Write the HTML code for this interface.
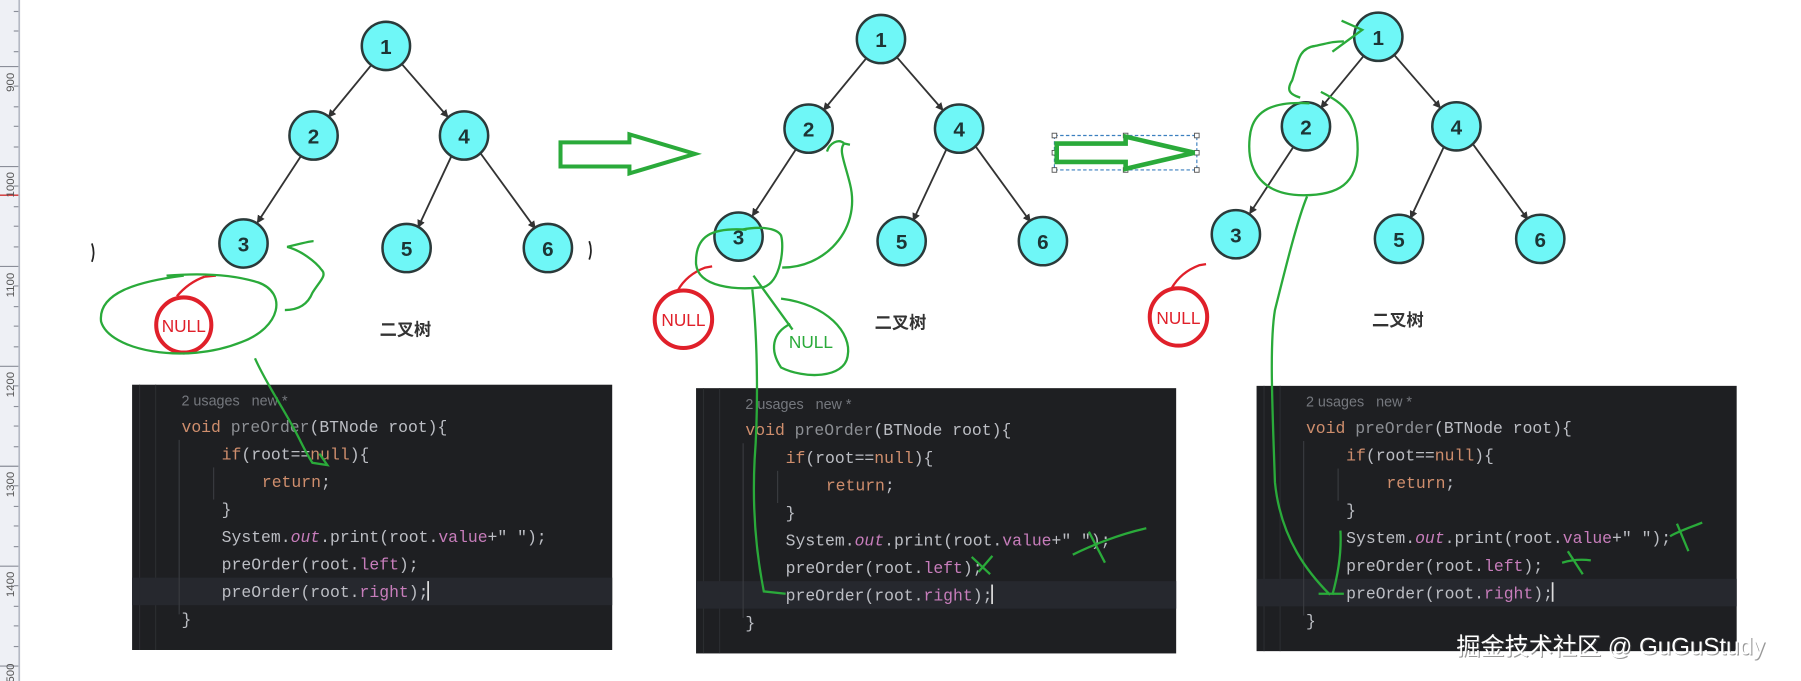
<!DOCTYPE html>
<html><head><meta charset="utf-8"><style>
html,body{margin:0;padding:0;background:#fff;}
svg{display:block;}
.code{font-family:"Liberation Mono",monospace;font-size:14.3px;fill:#bcbec4;}
.cn{font-family:"Liberation Sans","Noto Sans CJK SC",sans-serif;}
</style></head><body>
<svg width="1801" height="681" viewBox="0 0 1568 593" preserveAspectRatio="none" xmlns="http://www.w3.org/2000/svg">
<defs>
<marker id="ah" viewBox="0 0 10 10" refX="9" refY="5" markerWidth="7" markerHeight="7" orient="auto" markerUnits="userSpaceOnUse"><path d="M0,0 L10,5 L0,10 z" fill="#333"/></marker>
<g id="tree">
  <g stroke="#333" stroke-width="1.6" marker-end="url(#ah)">
    <line x1="323" y1="57" x2="286" y2="102"/>
    <line x1="350" y1="56" x2="390" y2="102"/>
    <line x1="262" y1="136" x2="224" y2="194"/>
    <line x1="393" y1="136" x2="364" y2="198"/>
    <line x1="418" y1="133" x2="466" y2="199"/>
  </g>
  <g fill="#6ff7f7" stroke="#2b3a3a" stroke-width="2.2">
    <circle cx="336" cy="40" r="21"/><circle cx="273" cy="118" r="21"/><circle cx="404" cy="118" r="21"/>
    <circle cx="212" cy="212" r="21"/><circle cx="354" cy="216" r="21"/><circle cx="477" cy="216" r="21"/>
  </g>
  <g font-family="Liberation Sans,sans-serif" font-weight="bold" font-size="18" fill="#1d3535" text-anchor="middle">
    <text x="336" y="47">1</text><text x="273" y="125">2</text><text x="404" y="125">4</text>
    <text x="212" y="219">3</text><text x="354" y="223">5</text><text x="477" y="223">6</text>
  </g>
  <text x="353" y="292" class="cn" font-size="15" font-weight="bold" fill="#333" text-anchor="middle">二叉树</text>
</g>
<g id="codebox">
  <rect x="0" y="0" width="418" height="231" fill="#1e1f22"/>
  <rect x="6" y="0" width="1" height="231" fill="#2b2d30"/>
  <rect x="20" y="0" width="1" height="231" fill="#2b2d30"/>
  <rect x="0" y="168" width="418" height="24" fill="#26282e"/>
  <line x1="41" y1="48" x2="41" y2="200" stroke="#393b40"/>
  <line x1="71" y1="72" x2="71" y2="100" stroke="#393b40"/>
  <text x="43" y="18" font-family="Liberation Sans,sans-serif" font-size="12.5" fill="#75787e">2 usages &#160; new *</text>
  <text class="code" x="43" y="41"><tspan style="fill:#cf8e6d">void</tspan> <tspan style="fill:#8c8f94">preOrder</tspan>(BTNode root){</text>
  <text class="code" x="78" y="65"><tspan style="fill:#cf8e6d">if</tspan>(root==<tspan style="fill:#cf8e6d">null</tspan>){</text>
  <text class="code" x="113" y="89"><tspan style="fill:#cf8e6d">return</tspan>;</text>
  <text class="code" x="78" y="113">}</text>
  <text class="code" x="78" y="137">System.<tspan style="fill:#c77dbb;font-style:italic">out</tspan>.print(root.<tspan style="fill:#c77dbb">value</tspan>+" ");</text>
  <text class="code" x="78" y="161">preOrder(root.<tspan style="fill:#c77dbb">left</tspan>);</text>
  <text class="code" x="78" y="185">preOrder(root.<tspan style="fill:#c77dbb">right</tspan>);</text>
  <rect x="257" y="171" width="1.5" height="17" fill="#ddd"/>
  <text class="code" x="43" y="209">}</text>
</g>
</defs>

<!-- ruler -->
<rect x="0" y="0" width="17" height="593" fill="#eef0f5"/>
<rect x="16" y="0" width="1.5" height="593" fill="#b5b9c4"/>
<g stroke="#8a8e99" stroke-width="1">
  <line x1="12" y1="10" x2="16" y2="10"/><line x1="12" y1="27" x2="16" y2="27"/><line x1="12" y1="45" x2="16" y2="45"/>
  <line x1="0" y1="58" x2="16" y2="58"/><line x1="12" y1="75" x2="16" y2="75"/><line x1="12" y1="93" x2="16" y2="93"/><line x1="12" y1="110" x2="16" y2="110"/><line x1="12" y1="128" x2="16" y2="128"/>
  <line x1="0" y1="145" x2="16" y2="145"/><line x1="12" y1="162" x2="16" y2="162"/><line x1="12" y1="180" x2="16" y2="180"/><line x1="12" y1="197" x2="16" y2="197"/><line x1="12" y1="215" x2="16" y2="215"/>
  <line x1="0" y1="232" x2="16" y2="232"/><line x1="12" y1="249" x2="16" y2="249"/><line x1="12" y1="267" x2="16" y2="267"/><line x1="12" y1="284" x2="16" y2="284"/><line x1="12" y1="302" x2="16" y2="302"/>
  <line x1="0" y1="319" x2="16" y2="319"/><line x1="12" y1="336" x2="16" y2="336"/><line x1="12" y1="354" x2="16" y2="354"/><line x1="12" y1="371" x2="16" y2="371"/><line x1="12" y1="389" x2="16" y2="389"/>
  <line x1="0" y1="406" x2="16" y2="406"/><line x1="12" y1="423" x2="16" y2="423"/><line x1="12" y1="441" x2="16" y2="441"/><line x1="12" y1="458" x2="16" y2="458"/><line x1="12" y1="476" x2="16" y2="476"/>
  <line x1="0" y1="493" x2="16" y2="493"/><line x1="12" y1="510" x2="16" y2="510"/><line x1="12" y1="528" x2="16" y2="528"/><line x1="12" y1="545" x2="16" y2="545"/><line x1="12" y1="563" x2="16" y2="563"/>
  <line x1="0" y1="580" x2="16" y2="580"/>
</g>
<line x1="0" y1="170" x2="16" y2="170" stroke="#d03030" stroke-width="1.2"/>
<g font-family="Liberation Sans,sans-serif" font-size="10" fill="#555">
  <text transform="translate(12,80) rotate(-90)">900</text>
  <text transform="translate(12,172) rotate(-90)">1000</text>
  <text transform="translate(12,259) rotate(-90)">1100</text>
  <text transform="translate(12,346) rotate(-90)">1200</text>
  <text transform="translate(12,433) rotate(-90)">1300</text>
  <text transform="translate(12,520) rotate(-90)">1400</text>
  <text transform="translate(12,600) rotate(-90)">1500</text>
</g>

<!-- panel 1 -->
<use href="#tree"/>
<use href="#codebox" x="115" y="335"/>
<path d="M80,212 q3,8 0,16" stroke="#222" fill="none" stroke-width="1.5"/>
<path d="M513,210 q3,8 0,16" stroke="#222" fill="none" stroke-width="1.5"/>
<circle cx="160" cy="283" r="24" fill="none" stroke="#e0202a" stroke-width="3.5"/>
<text x="160" y="289" font-family="Liberation Sans,sans-serif" font-size="15" fill="#e0202a" text-anchor="middle">NULL</text>
<path d="M154,258 q10,-12 24,-17 M178,241 l10,-1" stroke="#e0202a" fill="none" stroke-width="2"/>
<g stroke="#2aaa3a" stroke-width="2" fill="none">
  <path d="M160,240 C120,245 85,255 88,280 C95,305 160,318 210,298 C245,285 250,255 225,246 C200,238 170,238 145,240"/>
  <path d="M248,270 C260,270 268,265 272,255 C278,245 285,240 280,235 C275,228 262,218 250,215 C262,212 270,210 273,210"/>
  <path d="M222,312 C232,335 250,360 262,385 C266,393 270,400 272,403 L285,405 L278,395"/>
</g>
<!-- big arrow 1 -->
<path d="M488,124 L548,124 L548,117 L605,134 L548,151 L548,145 L488,145 Z" fill="none" stroke="#2aaa3a" stroke-width="3.5"/>

<!-- panel 2 -->
<use href="#tree" x="431" y="-6"/>
<use href="#codebox" x="606" y="338"/>
<circle cx="595" cy="278" r="25" fill="none" stroke="#e0202a" stroke-width="3.5"/>
<text x="595" y="284" font-family="Liberation Sans,sans-serif" font-size="15" fill="#e0202a" text-anchor="middle">NULL</text>
<path d="M590,253 q8,-14 24,-20 L620,232" stroke="#e0202a" fill="none" stroke-width="2"/>
<text x="706" y="303" font-family="Liberation Sans,sans-serif" font-size="15" fill="#2aaa3a" text-anchor="middle">NULL</text>
<g stroke="#2aaa3a" stroke-width="2" fill="none">
  <path d="M650,200 C620,198 605,205 606,230 C608,250 640,253 665,250 C680,245 683,215 680,205 C676,198 660,197 646,200"/>
  <path d="M681,233 C700,233 715,225 725,215 C740,200 745,180 740,160 C735,140 730,130 735,125 C730,120 722,125 720,132 M735,125 L740,126"/>
  <path d="M656,240 L690,287"/>
  <path d="M680,260 C720,265 742,290 738,310 C735,330 700,330 680,320 C670,305 672,290 688,282"/>
  <path d="M655,252 C660,300 660,360 657,400 C655,440 658,480 665,515 L684,517"/>
  <path d="M934,483 C950,475 975,465 998,460 M948,463 L962,490"/>
  <path d="M846,485 L862,500 M852,498 L864,484"/>
</g>
<!-- big arrow 2 with selection box -->
<rect x="918" y="118" width="124" height="30" fill="none" stroke="#3b7fbf" stroke-width="1" stroke-dasharray="3,2"/>
<g fill="#fff" stroke="#555" stroke-width="0.8">
  <rect x="916" y="116" width="4" height="4"/><rect x="978" y="116" width="4" height="4"/><rect x="1040" y="116" width="4" height="4"/>
  <rect x="916" y="131" width="4" height="4"/><rect x="1040" y="131" width="4" height="4"/>
  <rect x="916" y="146" width="4" height="4"/><rect x="978" y="146" width="4" height="4"/><rect x="1040" y="146" width="4" height="4"/>
</g>
<path d="M920,125 L980,125 L980,119 L1040,133 L980,147 L980,141 L920,141 Z" fill="none" stroke="#2aaa3a" stroke-width="4"/>

<!-- panel 3 -->
<use href="#tree" x="864" y="-8"/>
<use href="#codebox" x="1094" y="336"/>
<circle cx="1026" cy="276" r="25" fill="none" stroke="#e0202a" stroke-width="3.5"/>
<text x="1026" y="282" font-family="Liberation Sans,sans-serif" font-size="15" fill="#e0202a" text-anchor="middle">NULL</text>
<path d="M1020,251 q8,-14 24,-20 L1050,230" stroke="#e0202a" fill="none" stroke-width="2"/>
<g stroke="#2aaa3a" stroke-width="2" fill="none">
  <path d="M1140,90 C1110,88 1090,95 1088,120 C1085,150 1100,170 1135,170 C1165,170 1182,160 1182,130 C1182,100 1170,90 1150,80"/>
  <path d="M1132,85 C1122,82 1120,78 1125,70 C1130,55 1130,42 1145,40 C1155,38 1160,36 1170,36 M1168,18 L1186,26 L1160,45"/>
  <path d="M1138,171 C1130,190 1120,230 1110,270 C1105,300 1108,360 1110,420 C1115,470 1140,500 1158,518 M1148,517 L1170,517 M1160,518 C1165,500 1168,480 1167,462"/>
  <path d="M1454,467 C1460,463 1475,458 1482,455 M1460,456 L1470,480"/>
  <path d="M1360,490 C1370,487 1378,487 1385,488 M1365,480 L1378,500"/>
</g>

<!-- watermark -->
<text x="1268" y="570" class="cn" font-size="21" fill="#555" opacity="0.6" transform="translate(1,1)">掘金技术社区 @ GuGuStudy</text>
<text x="1268" y="570" class="cn" font-size="21" fill="#ffffff">掘金技术社区 @ GuGuStudy</text>
</svg>
</body></html>
